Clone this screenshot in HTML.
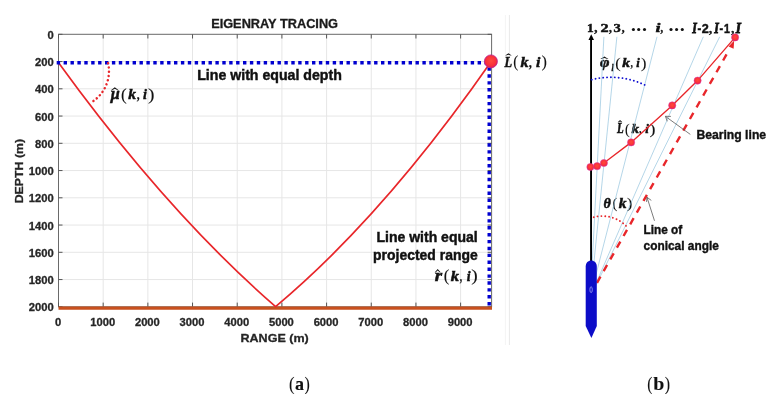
<!DOCTYPE html>
<html><head><meta charset="utf-8"><style>
html,body{margin:0;padding:0;background:#fff;width:778px;height:404px;overflow:hidden}
svg{display:block;will-change:transform;filter:blur(0.35px)}
.sb{font-family:"Liberation Sans",sans-serif;font-weight:bold}
.sf{font-family:"Liberation Serif",serif}
</style></head><body>
<svg width="778" height="404" viewBox="0 0 778 404">
<defs>
<radialGradient id="ball" cx="50%" cy="45%" r="55%">
<stop offset="0" stop-color="#ff4a3c"/>
<stop offset="0.7" stop-color="#f8303a"/>
<stop offset="1" stop-color="#d81e62"/>
</radialGradient>
</defs>

<line x1="505.4" y1="15" x2="505.4" y2="345" stroke="#f4f4f4" stroke-width="1"/><line x1="509.4" y1="15" x2="509.4" y2="345" stroke="#e9e9e9" stroke-width="1"/>
<g stroke="#e6e6e6" stroke-width="1"><line x1="103.18" y1="34.3" x2="103.18" y2="306.8"/><line x1="147.86" y1="34.3" x2="147.86" y2="306.8"/><line x1="192.54" y1="34.3" x2="192.54" y2="306.8"/><line x1="237.22" y1="34.3" x2="237.22" y2="306.8"/><line x1="281.90" y1="34.3" x2="281.90" y2="306.8"/><line x1="326.58" y1="34.3" x2="326.58" y2="306.8"/><line x1="371.26" y1="34.3" x2="371.26" y2="306.8"/><line x1="415.94" y1="34.3" x2="415.94" y2="306.8"/><line x1="460.62" y1="34.3" x2="460.62" y2="306.8"/><line x1="58.5" y1="61.55" x2="491.6" y2="61.55"/><line x1="58.5" y1="88.80" x2="491.6" y2="88.80"/><line x1="58.5" y1="116.05" x2="491.6" y2="116.05"/><line x1="58.5" y1="143.30" x2="491.6" y2="143.30"/><line x1="58.5" y1="170.55" x2="491.6" y2="170.55"/><line x1="58.5" y1="197.80" x2="491.6" y2="197.80"/><line x1="58.5" y1="225.05" x2="491.6" y2="225.05"/><line x1="58.5" y1="252.30" x2="491.6" y2="252.30"/><line x1="58.5" y1="279.55" x2="491.6" y2="279.55"/></g>
<rect x="58.5" y="34.3" width="433.10" height="272.50" fill="none" stroke="#6a6a6a" stroke-width="1"/>
<g stroke="#555" stroke-width="1"><line x1="58.50" y1="34.3" x2="58.50" y2="38.5"/><line x1="58.50" y1="306.8" x2="58.50" y2="302.6"/><line x1="103.18" y1="34.3" x2="103.18" y2="38.5"/><line x1="103.18" y1="306.8" x2="103.18" y2="302.6"/><line x1="147.86" y1="34.3" x2="147.86" y2="38.5"/><line x1="147.86" y1="306.8" x2="147.86" y2="302.6"/><line x1="192.54" y1="34.3" x2="192.54" y2="38.5"/><line x1="192.54" y1="306.8" x2="192.54" y2="302.6"/><line x1="237.22" y1="34.3" x2="237.22" y2="38.5"/><line x1="237.22" y1="306.8" x2="237.22" y2="302.6"/><line x1="281.90" y1="34.3" x2="281.90" y2="38.5"/><line x1="281.90" y1="306.8" x2="281.90" y2="302.6"/><line x1="326.58" y1="34.3" x2="326.58" y2="38.5"/><line x1="326.58" y1="306.8" x2="326.58" y2="302.6"/><line x1="371.26" y1="34.3" x2="371.26" y2="38.5"/><line x1="371.26" y1="306.8" x2="371.26" y2="302.6"/><line x1="415.94" y1="34.3" x2="415.94" y2="38.5"/><line x1="415.94" y1="306.8" x2="415.94" y2="302.6"/><line x1="460.62" y1="34.3" x2="460.62" y2="38.5"/><line x1="460.62" y1="306.8" x2="460.62" y2="302.6"/><line x1="58.5" y1="34.30" x2="62.5" y2="34.30"/><line x1="491.6" y1="34.30" x2="487.6" y2="34.30"/><line x1="58.5" y1="61.55" x2="62.5" y2="61.55"/><line x1="491.6" y1="61.55" x2="487.6" y2="61.55"/><line x1="58.5" y1="88.80" x2="62.5" y2="88.80"/><line x1="491.6" y1="88.80" x2="487.6" y2="88.80"/><line x1="58.5" y1="116.05" x2="62.5" y2="116.05"/><line x1="491.6" y1="116.05" x2="487.6" y2="116.05"/><line x1="58.5" y1="143.30" x2="62.5" y2="143.30"/><line x1="491.6" y1="143.30" x2="487.6" y2="143.30"/><line x1="58.5" y1="170.55" x2="62.5" y2="170.55"/><line x1="491.6" y1="170.55" x2="487.6" y2="170.55"/><line x1="58.5" y1="197.80" x2="62.5" y2="197.80"/><line x1="491.6" y1="197.80" x2="487.6" y2="197.80"/><line x1="58.5" y1="225.05" x2="62.5" y2="225.05"/><line x1="491.6" y1="225.05" x2="487.6" y2="225.05"/><line x1="58.5" y1="252.30" x2="62.5" y2="252.30"/><line x1="491.6" y1="252.30" x2="487.6" y2="252.30"/><line x1="58.5" y1="279.55" x2="62.5" y2="279.55"/><line x1="491.6" y1="279.55" x2="487.6" y2="279.55"/><line x1="58.5" y1="306.80" x2="62.5" y2="306.80"/><line x1="491.6" y1="306.80" x2="487.6" y2="306.80"/></g>
<g class="sb" font-size="11.2" fill="#262626" stroke="#262626" stroke-width="0.3"><text x="53.65" y="38.80" text-anchor="end">0</text><text x="53.65" y="66.05" text-anchor="end">200</text><text x="53.65" y="93.30" text-anchor="end">400</text><text x="53.65" y="120.55" text-anchor="end">600</text><text x="53.65" y="147.80" text-anchor="end">800</text><text x="53.65" y="175.05" text-anchor="end">1000</text><text x="53.65" y="202.30" text-anchor="end">1200</text><text x="53.65" y="229.55" text-anchor="end">1400</text><text x="53.65" y="256.80" text-anchor="end">1600</text><text x="53.65" y="284.05" text-anchor="end">1800</text><text x="53.65" y="311.30" text-anchor="end">2000</text><text x="58.00" y="325.8" text-anchor="middle">0</text><text x="102.68" y="325.8" text-anchor="middle">1000</text><text x="147.36" y="325.8" text-anchor="middle">2000</text><text x="192.04" y="325.8" text-anchor="middle">3000</text><text x="236.72" y="325.8" text-anchor="middle">4000</text><text x="281.40" y="325.8" text-anchor="middle">5000</text><text x="326.08" y="325.8" text-anchor="middle">6000</text><text x="370.76" y="325.8" text-anchor="middle">7000</text><text x="415.44" y="325.8" text-anchor="middle">8000</text><text x="460.12" y="325.8" text-anchor="middle">9000</text></g>
<text class="sb" x="274.6" y="28.1" font-size="12.4" fill="#1a1a1a" stroke="#1a1a1a" stroke-width="0.3" text-anchor="middle" textLength="126.9" lengthAdjust="spacingAndGlyphs">EIGENRAY TRACING</text>
<text class="sb" x="274.6" y="342.1" font-size="11.8" fill="#262626" stroke="#262626" stroke-width="0.3" text-anchor="middle" textLength="68.2" lengthAdjust="spacingAndGlyphs">RANGE (m)</text>
<text class="sb" font-size="11.8" fill="#262626" stroke="#262626" stroke-width="0.3" text-anchor="middle" transform="translate(23.3 171.1) rotate(-90)" textLength="64.4" lengthAdjust="spacingAndGlyphs">DEPTH (m)</text>
<line x1="58.5" y1="308.1" x2="492.0" y2="308.1" stroke="#c8501e" stroke-width="3.4"/>
<path d="M58.4,62.5 Q167,212.3 275.6,306.6 Q383.4,216.4 491.2,61.6" fill="none" stroke="#e8262a" stroke-width="1.7"/>
<line x1="56.7" y1="62.8" x2="488" y2="62.8" stroke="#0000d0" stroke-width="3.4" stroke-dasharray="3.4 3.5"/>
<line x1="489.2" y1="60.5" x2="489.2" y2="306.5" stroke="#0000d0" stroke-width="3.4" stroke-dasharray="3.4 3.5"/>
<path d="M108.11,63.29 A36.31,36.31 0 0 1 92.25,101.72" fill="none" stroke="#e8262a" stroke-width="2.5" stroke-linecap="round" stroke-dasharray="0.01 4.25"/>
<circle cx="490.9" cy="61.4" r="6.5" fill="url(#ball)" stroke="#c0208a" stroke-width="0.8"/>
<text class="sb" x="197.2" y="79.9" font-size="14.6" fill="#111" stroke="#111" stroke-width="0.45" textLength="144.6" lengthAdjust="spacingAndGlyphs">Line with equal depth</text>
<text class="sb" x="477.7" y="241.7" font-size="14.4" fill="#111" stroke="#111" stroke-width="0.45" text-anchor="end" textLength="101.2" lengthAdjust="spacingAndGlyphs">Line with equal</text>
<text class="sb" x="477.7" y="260.2" font-size="14.4" fill="#111" stroke="#111" stroke-width="0.45" text-anchor="end" textLength="104.6" lengthAdjust="spacingAndGlyphs">projected range</text>
<text transform="translate(110.73 99.30) scale(0.958 1)" font-size="17" style="font-family:'Liberation Serif';font-weight:bold;font-style:italic" fill="#111" stroke="#111" stroke-width="0.5">μ</text>
<path d="M110.60,90.40 L114.80,87.20 L119.00,90.40 L118.10,90.40 L114.80,88.80 L111.50,90.40 Z" fill="#111"/>
<text transform="translate(120.90 99.80) scale(1.050 1)" font-size="16.3" style="font-family:'Liberation Serif'" fill="#111" stroke="#111" stroke-width="0.1">(</text>
<text transform="translate(128.13 99.30) scale(1.032 1)" font-size="15" style="font-family:'Liberation Serif';font-weight:bold;font-style:italic" fill="#111" stroke="#111" stroke-width="0.5">k</text>
<text transform="translate(136.75 99.30) scale(0.771 1)" font-size="15" style="font-family:'Liberation Serif';font-weight:bold" fill="#111" stroke="#111" stroke-width="0.2">,</text>
<text transform="translate(143.10 99.30) scale(0.941 1)" font-size="15" style="font-family:'Liberation Serif';font-weight:bold;font-style:italic" fill="#111" stroke="#111" stroke-width="0.5">i</text>
<text transform="translate(148.03 99.80) scale(1.179 1)" font-size="16.5" style="font-family:'Liberation Serif'" fill="#111" stroke="#111" stroke-width="0.1">)</text>
<text transform="translate(504.44 66.50) scale(0.849 1)" font-size="14.6" style="font-family:'Liberation Serif';font-weight:bold;font-style:italic" fill="#111" stroke="#111" stroke-width="0.5">L</text>
<path d="M505.20,55.60 L508.45,53.30 L511.70,55.60 L510.80,55.60 L508.45,54.80 L506.10,55.60 Z" fill="#111"/>
<text transform="translate(513.28 67.10) scale(0.931 1)" font-size="16.3" style="font-family:'Liberation Serif'" fill="#111" stroke="#111" stroke-width="0.1">(</text>
<text transform="translate(520.42 66.50) scale(1.074 1)" font-size="15" style="font-family:'Liberation Serif';font-weight:bold;font-style:italic" fill="#111" stroke="#111" stroke-width="0.5">k</text>
<text transform="translate(528.84 66.50) scale(0.838 1)" font-size="15" style="font-family:'Liberation Serif';font-weight:bold" fill="#111" stroke="#111" stroke-width="0.2">,</text>
<text transform="translate(536.06 66.50) scale(1.048 1)" font-size="15" style="font-family:'Liberation Serif';font-weight:bold;font-style:italic" fill="#111" stroke="#111" stroke-width="0.5">i</text>
<text x="541.53" y="67.10" font-size="16.3" style="font-family:'Liberation Serif'" fill="#111" stroke="#111" stroke-width="0.1">)</text>
<text transform="translate(434.65 280.70) scale(1.114 1)" font-size="17" style="font-family:'Liberation Serif';font-weight:bold;font-style:italic" fill="#111" stroke="#111" stroke-width="0.5">r</text>
<path d="M434.60,272.40 L437.70,269.00 L440.80,272.40 L439.90,272.40 L437.70,270.60 L435.50,272.40 Z" fill="#111"/>
<text transform="translate(443.81 281.10) scale(1.046 1)" font-size="16" style="font-family:'Liberation Serif'" fill="#111" stroke="#111" stroke-width="0.1">(</text>
<text transform="translate(450.82 280.70) scale(1.080 1)" font-size="15.3" style="font-family:'Liberation Serif';font-weight:bold;font-style:italic" fill="#111" stroke="#111" stroke-width="0.5">k</text>
<text transform="translate(459.68 280.70) scale(0.637 1)" font-size="15" style="font-family:'Liberation Serif';font-weight:bold" fill="#111" stroke="#111" stroke-width="0.2">,</text>
<text transform="translate(466.81 280.70) scale(0.914 1)" font-size="15" style="font-family:'Liberation Serif';font-weight:bold;font-style:italic" fill="#111" stroke="#111" stroke-width="0.5">i</text>
<text transform="translate(471.33 281.10) scale(1.216 1)" font-size="16" style="font-family:'Liberation Serif'" fill="#111" stroke="#111" stroke-width="0.1">)</text>
<text transform="translate(600.09 67.10) scale(1.139 1)" font-size="14.3" style="font-family:'Liberation Serif';font-weight:bold;font-style:italic" fill="#111" stroke="#111" stroke-width="0.5">φ</text>
<path d="M600.40,58.90 L604.40,56.50 L608.40,58.90 L607.50,58.90 L604.40,57.90 L601.30,58.90 Z" fill="#111"/>
<text transform="translate(611.58 70.60) scale(0.743 1)" font-size="10.6" style="font-family:'Liberation Serif';font-weight:bold;font-style:italic" fill="#111" stroke="#111" stroke-width="0.5">l</text>
<text transform="translate(615.13 67.60) scale(1.151 1)" font-size="14.2" style="font-family:'Liberation Serif'" fill="#111" stroke="#111" stroke-width="0.1">(</text>
<text transform="translate(622.33 67.10) scale(1.191 1)" font-size="13" style="font-family:'Liberation Serif';font-weight:bold;font-style:italic" fill="#111" stroke="#111" stroke-width="0.5">k</text>
<text transform="translate(630.58 67.10) scale(0.734 1)" font-size="13" style="font-family:'Liberation Serif';font-weight:bold" fill="#111" stroke="#111" stroke-width="0.2">,</text>
<text transform="translate(636.24 67.10) scale(0.962 1)" font-size="13" style="font-family:'Liberation Serif';font-weight:bold;font-style:italic" fill="#111" stroke="#111" stroke-width="0.5">i</text>
<text transform="translate(640.93 67.60) scale(1.151 1)" font-size="14.2" style="font-family:'Liberation Serif'" fill="#111" stroke="#111" stroke-width="0.1">)</text>
<text transform="translate(616.93 133.00) scale(0.774 1)" font-size="14.2" style="font-family:'Liberation Serif';font-weight:bold;font-style:italic" fill="#111" stroke="#111" stroke-width="0.5">L</text>
<path d="M617.70,122.30 L620.05,120.10 L622.40,122.30 L621.50,122.30 L620.05,121.50 L618.60,122.30 Z" fill="#111"/>
<text x="625.03" y="133.50" font-size="14" style="font-family:'Liberation Serif'" fill="#111" stroke="#111" stroke-width="0.1">(</text>
<text transform="translate(631.44 133.00) scale(1.116 1)" font-size="13.5" style="font-family:'Liberation Serif';font-weight:bold;font-style:italic" fill="#111" stroke="#111" stroke-width="0.5">k</text>
<text transform="translate(639.07 133.00) scale(0.744 1)" font-size="13.5" style="font-family:'Liberation Serif';font-weight:bold" fill="#111" stroke="#111" stroke-width="0.2">,</text>
<text transform="translate(645.23 133.00) scale(0.956 1)" font-size="13.5" style="font-family:'Liberation Serif';font-weight:bold;font-style:italic" fill="#111" stroke="#111" stroke-width="0.5">i</text>
<text transform="translate(649.38 133.50) scale(1.278 1)" font-size="14" style="font-family:'Liberation Serif'" fill="#111" stroke="#111" stroke-width="0.1">)</text>
<text x="603.51" y="207.80" font-size="14" style="font-family:'Liberation Serif';font-weight:bold;font-style:italic" fill="#111" stroke="#111" stroke-width="0.5">θ</text>
<text transform="translate(612.52 208.00) scale(0.960 1)" font-size="15" style="font-family:'Liberation Serif'" fill="#111" stroke="#111" stroke-width="0.1">(</text>
<text transform="translate(618.83 207.80) scale(1.106 1)" font-size="14" style="font-family:'Liberation Serif';font-weight:bold;font-style:italic" fill="#111" stroke="#111" stroke-width="0.5">k</text>
<text transform="translate(626.71 208.00) scale(1.115 1)" font-size="15" style="font-family:'Liberation Serif'" fill="#111" stroke="#111" stroke-width="0.1">)</text>
<text transform="translate(587.05 32.40) scale(1.121 1)" font-size="12" style="font-family:'Liberation Serif';font-weight:bold" fill="#111" stroke="#111" stroke-width="0.45">1</text>
<text transform="translate(594.26 32.40) scale(1.068 1)" font-size="12" style="font-family:'Liberation Serif';font-weight:bold" fill="#111" stroke="#111" stroke-width="0.45">,</text>
<text transform="translate(600.54 32.40) scale(1.355 1)" font-size="12" style="font-family:'Liberation Serif';font-weight:bold" fill="#111" stroke="#111" stroke-width="0.45">2</text>
<text transform="translate(608.98 32.40) scale(0.942 1)" font-size="12" style="font-family:'Liberation Serif';font-weight:bold" fill="#111" stroke="#111" stroke-width="0.45">,</text>
<text transform="translate(613.47 32.40) scale(1.217 1)" font-size="12" style="font-family:'Liberation Serif';font-weight:bold" fill="#111" stroke="#111" stroke-width="0.45">3</text>
<text transform="translate(621.78 32.40) scale(0.942 1)" font-size="12" style="font-family:'Liberation Serif';font-weight:bold" fill="#111" stroke="#111" stroke-width="0.45">,</text>
<circle cx="633.4" cy="29.5" r="1.55" fill="#111"/>
<circle cx="638.7" cy="29.5" r="1.55" fill="#111"/>
<circle cx="644.5" cy="29.5" r="1.55" fill="#111"/>
<circle cx="671.0" cy="29.5" r="1.55" fill="#111"/>
<circle cx="676.6" cy="29.5" r="1.55" fill="#111"/>
<circle cx="682.3" cy="29.5" r="1.55" fill="#111"/>
<text transform="translate(655.74 32.40) scale(1.323 1)" font-size="12.5" style="font-family:'Liberation Serif';font-weight:bold;font-style:italic" fill="#111" stroke="#111" stroke-width="0.7">i</text>
<text transform="translate(660.39 32.40) scale(0.858 1)" font-size="12" style="font-family:'Liberation Serif';font-weight:bold" fill="#111" stroke="#111" stroke-width="0.45">,</text>
<text transform="translate(692.32 32.60) scale(0.791 1)" font-size="14.8" style="font-family:'Liberation Serif';font-weight:bold;font-style:italic" fill="#111" stroke="#111" stroke-width="0.8">I</text>
<text transform="translate(697.49 32.60) scale(0.935 1)" font-size="12" style="font-family:'Liberation Sans';font-weight:bold" fill="#111" stroke="#111" stroke-width="0.45">-</text>
<text transform="translate(701.78 32.60) scale(1.048 1)" font-size="12" style="font-family:'Liberation Sans';font-weight:bold" fill="#111" stroke="#111" stroke-width="0.45">2</text>
<text transform="translate(708.96 32.60) scale(1.026 1)" font-size="12" style="font-family:'Liberation Serif';font-weight:bold" fill="#111" stroke="#111" stroke-width="0.45">,</text>
<text transform="translate(714.22 32.60) scale(0.791 1)" font-size="14.8" style="font-family:'Liberation Serif';font-weight:bold;font-style:italic" fill="#111" stroke="#111" stroke-width="0.8">I</text>
<text transform="translate(719.50 32.60) scale(0.902 1)" font-size="12" style="font-family:'Liberation Sans';font-weight:bold" fill="#111" stroke="#111" stroke-width="0.45">-</text>
<text transform="translate(723.95 32.60) scale(0.887 1)" font-size="12" style="font-family:'Liberation Sans';font-weight:bold" fill="#111" stroke="#111" stroke-width="0.45">1</text>
<text x="731.27" y="32.60" font-size="12" style="font-family:'Liberation Serif';font-weight:bold" fill="#111" stroke="#111" stroke-width="0.45">,</text>
<text transform="translate(735.83 32.60) scale(0.902 1)" font-size="14.8" style="font-family:'Liberation Serif';font-weight:bold;font-style:italic" fill="#111" stroke="#111" stroke-width="0.8">I</text>
<g stroke="#8cc0dc" stroke-width="0.65"><line x1="590.5" y1="296" x2="603.9" y2="36.8"/><line x1="590.5" y1="296" x2="616.9" y2="36.8"/><line x1="590.5" y1="296" x2="657" y2="36.8"/><line x1="590.5" y1="296" x2="703.3" y2="36.8"/><line x1="590.5" y1="296" x2="719.7" y2="36.8"/></g>
<line x1="591.05" y1="262" x2="591.05" y2="39.5" stroke="#000" stroke-width="1.9"/>
<path d="M591.2,34.2 L588.5,39.9 L594.0,39.9 Z" fill="#000"/>
<line x1="597.0" y1="282.8" x2="726.9" y2="53.8" stroke="#e8262a" stroke-width="2.4" stroke-dasharray="7 6.45"/>
<path d="M734.2,40.6 L728.6,46.6 L733.6,48.8 Z" fill="#e8262a"/>
<polyline points="590.4,167.0 597.1,166.2 603.9,163.0 631.1,142.4 672.2,105.4 697.6,80.6 735.1,37.4" fill="none" stroke="#e8262a" stroke-width="1.35"/>
<circle cx="590.4" cy="167.0" r="3.6" fill="url(#ball)" stroke="#e03aa0" stroke-width="0.5"/>
<circle cx="597.1" cy="166.2" r="3.6" fill="url(#ball)" stroke="#e03aa0" stroke-width="0.5"/>
<circle cx="603.9" cy="163.0" r="3.6" fill="url(#ball)" stroke="#e03aa0" stroke-width="0.5"/>
<circle cx="631.1" cy="142.4" r="3.6" fill="url(#ball)" stroke="#e03aa0" stroke-width="0.5"/>
<circle cx="672.2" cy="105.4" r="3.6" fill="url(#ball)" stroke="#e03aa0" stroke-width="0.5"/>
<circle cx="697.6" cy="80.6" r="3.6" fill="url(#ball)" stroke="#e03aa0" stroke-width="0.5"/>
<circle cx="735.1" cy="37.4" r="3.6" fill="url(#ball)" stroke="#e03aa0" stroke-width="0.5"/>
<path d="M591.79,79.65 A78.67,78.67 0 0 1 644.60,84.89" fill="none" stroke="#1010d0" stroke-width="1.9" stroke-linecap="round" stroke-dasharray="0.01 3.85"/>
<path d="M593.77,217.17 A33.69,33.69 0 0 1 628.05,228.09" fill="none" stroke="#e8262a" stroke-width="1.9" stroke-linecap="round" stroke-dasharray="0.01 3.85"/>
<path d="M585.7,266.5 C585.7,262.5 588.2,260.4 591.2,260.4 C594.2,260.4 596.8,262.5 596.8,266.5 L596.8,326 L591.4,337.9 L585.7,326 Z" fill="#0c0cc8"/>
<ellipse cx="591.1" cy="289.7" rx="1.2" ry="3.0" fill="none" stroke="#b4b4f4" stroke-width="0.7"/>
<line x1="690.3" y1="134.4" x2="665.6" y2="116.5" stroke="#505050" stroke-width="0.75"/>
<path d="M670.9,116.4 L665.4,116.3 L667.3,121.3" fill="none" stroke="#505050" stroke-width="0.75"/>
<line x1="654.5" y1="220.8" x2="647.1" y2="197.6" stroke="#505050" stroke-width="0.75"/>
<path d="M651.3,200.4 L647.0,197.3 L646.5,201.9" fill="none" stroke="#505050" stroke-width="0.75"/>
<text class="sb" x="696.4" y="139.0" font-size="13.2" fill="#111" stroke="#111" stroke-width="0.4" textLength="69.7" lengthAdjust="spacingAndGlyphs">Bearing line</text>
<text class="sb" x="643.6" y="233.6" font-size="12.6" fill="#111" stroke="#111" stroke-width="0.4" textLength="38.6" lengthAdjust="spacingAndGlyphs">Line of</text>
<text class="sb" x="643.6" y="250.4" font-size="12.6" fill="#111" stroke="#111" stroke-width="0.4" textLength="75.2" lengthAdjust="spacingAndGlyphs">conical angle</text>
<text transform="translate(288.91 389.60) scale(0.867 1)" font-size="19.3" style="font-family:'Liberation Serif'" fill="#111" stroke="#111" stroke-width="0.1">(</text>
<text transform="translate(294.97 389.60) scale(0.943 1)" font-size="19.2" style="font-family:'Liberation Serif';font-weight:bold" fill="#111" stroke="#111" stroke-width="0.1">a</text>
<text transform="translate(304.54 389.60) scale(0.827 1)" font-size="19.3" style="font-family:'Liberation Serif'" fill="#111" stroke="#111" stroke-width="0.1">)</text>
<text transform="translate(647.27 389.60) scale(0.806 1)" font-size="19.3" style="font-family:'Liberation Serif'" fill="#111" stroke="#111" stroke-width="0.1">(</text>
<text transform="translate(653.29 389.60) scale(1.046 1)" font-size="19.0" style="font-family:'Liberation Serif';font-weight:bold" fill="#111" stroke="#111" stroke-width="0.1">b</text>
<text transform="translate(664.64 389.60) scale(0.827 1)" font-size="19.3" style="font-family:'Liberation Serif'" fill="#111" stroke="#111" stroke-width="0.1">)</text>
</svg>
</body></html>
